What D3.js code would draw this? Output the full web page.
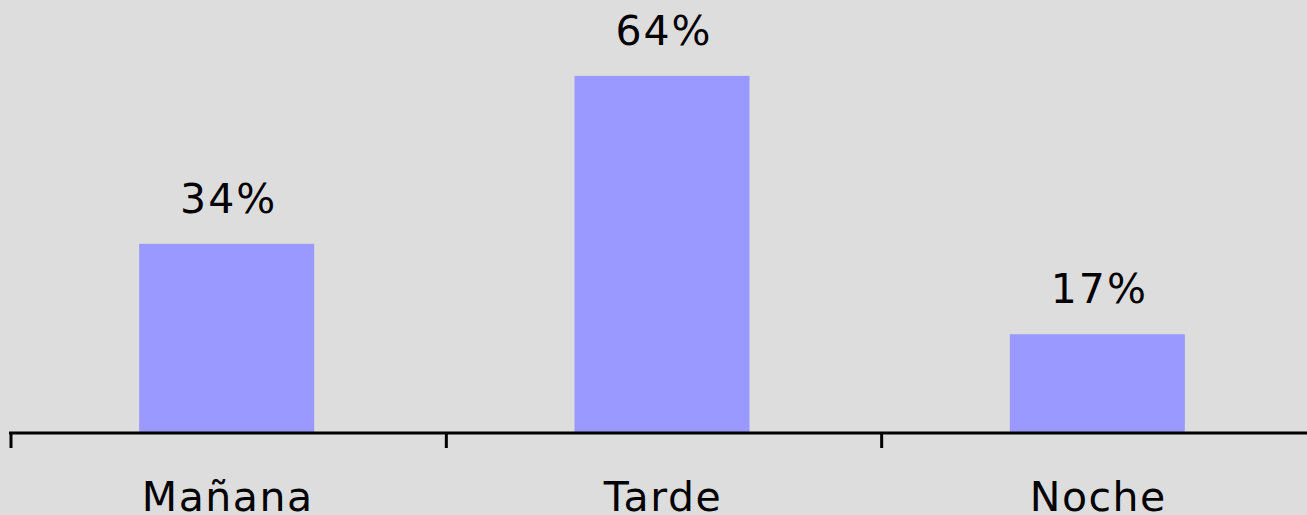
<!DOCTYPE html>
<html>
<head>
<meta charset="utf-8">
<script src="https://cdn.jsdelivr.net/npm/d3@7"></script>
<style>
  body { margin: 0; background: #dddddd; }
  svg { display: block; }
</style>
</head>
<body>
<svg id="s" width="1307" height="515"></svg>
<script>
var categories = ["Mañana", "Tarde", "Noche"];
var values = [33.9, 64, 17.7];
var labels = ["34%", "64%", "17%"];

var svg = d3.select("#s");
var baseY = 433;

var x = d3.scaleBand().domain(categories).range([9, 1315]);
var y = d3.scaleLinear().domain([0, 100]).range([baseY, baseY - 558]);
var barW = 175;

svg.append("rect").attr("width", 1307).attr("height", 515).attr("fill", "#dddddd");

var bars = svg.selectAll("rect.bar").data(categories).enter().append("rect");
bars.attr("class", "bar")
    .attr("x", function(d){ return x(d) + (x.step() - barW) / 2; })
    .attr("y", function(d, i){ return y(values[i]); })
    .attr("width", barW)
    .attr("height", function(d, i){ return baseY - y(values[i]); })
    .attr("fill", "#9999ff");

svg.selectAll("text.val").data(categories).enter().append("text")
    .attr("class", "val")
    .attr("x", function(d){ return x(d) + x.step() / 2 + 2; })
    .attr("y", function(d, i){ return Math.round(y(values[i])) - 31; })
    .attr("text-anchor", "middle")
    .attr("font-family", "DejaVu Sans, Verdana, sans-serif")
    .attr("font-size", 41)
    .attr("letter-spacing", 2)
    .attr("fill", "#000")
    .text(function(d, i){ return labels[i]; });

// axis line
svg.append("line")
    .attr("x1", 9).attr("x2", 1307)
    .attr("y1", baseY).attr("y2", baseY)
    .attr("stroke", "#000").attr("stroke-width", 3);

// ticks at band edges
svg.selectAll("line.tick").data(categories).enter().append("line")
    .attr("class", "tick")
    .attr("x1", function(d){ return x(d) + 2; })
    .attr("x2", function(d){ return x(d) + 2; })
    .attr("y1", baseY).attr("y2", 448)
    .attr("stroke", "#000").attr("stroke-width", 3);

svg.selectAll("text.cat").data(categories).enter().append("text")
    .attr("class", "cat")
    .attr("x", function(d){ return x(d) + x.step() / 2 + 1; })
    .attr("y", 511)
    .attr("text-anchor", "middle")
    .attr("font-family", "DejaVu Sans, Verdana, sans-serif")
    .attr("font-size", 41)
    .attr("letter-spacing", 1.5)
    .attr("fill", "#000")
    .text(function(d){ return d; });
</script>
</body>
</html>
